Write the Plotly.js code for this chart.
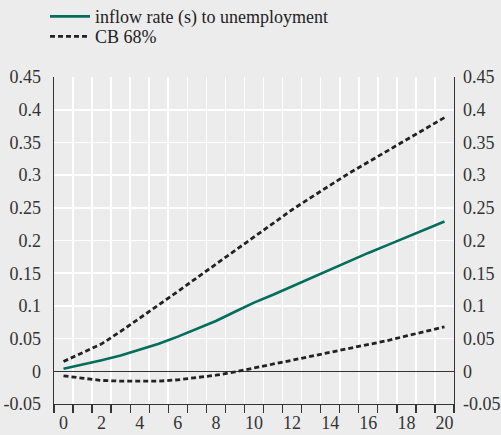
<!DOCTYPE html>
<html>
<head>
<meta charset="utf-8">
<script src="https://cdn.plot.ly/plotly-3.0.1.min.js"></script>
<style>
html,body{margin:0;padding:0;background:#ececec;}
#chart{width:501px;height:435px;}
</style>
</head>
<body>
<div id="chart"></div>
<script>
const horizons = [0,1,2,3,4,5,6,7,8,9,10,11,12,13,14,15,16,17,18,19,20];
const inflowRate = [0.004,0.010,0.017,0.024,0.033,0.042,0.053,0.065,0.077,0.091,0.105,0.117,0.130,0.143,0.156,0.169,0.181,0.193,0.205,0.216,0.229];
const cbUpper = [0.015,0.028,0.042,0.061,0.081,0.102,0.122,0.143,0.164,0.185,0.206,0.227,0.247,0.266,0.285,0.303,0.320,0.337,0.354,0.371,0.388];
const cbLower = [-0.007,-0.011,-0.014,-0.015,-0.015,-0.015,-0.013,-0.010,-0.006,-0.001,0.005,0.010,0.016,0.022,0.028,0.034,0.040,0.047,0.054,0.061,0.068];
const xTickVals = [0,2,4,6,8,10,12,14,16,18,20];
const xTickText = ["0","2","4","6","8","10","12","14","16","18","20"];
const yTickVals = [-0.05,0,0.05,0.1,0.15,0.2,0.25,0.3,0.35,0.4,0.45];
const yTickText = ["-0.05","0","0.05","0.1","0.15","0.2","0.25","0.3","0.35","0.4","0.45"];
const labels = ["inflow rate (s) to unemployment","CB 68%"];

const teal = "#006e5a";
const dark = "#222222";
const font = "Liberation Serif, Times New Roman, Tinos, DejaVu Serif, serif";

const traces = [
  {x: horizons, y: inflowRate, type: "scatter", mode: "lines", name: labels[0], legend: "legend",
   line: {color: teal, width: 2.6}, xaxis: "x", yaxis: "y"},
  {x: horizons, y: cbUpper, type: "scatter", mode: "lines", name: labels[1], legend: "legend2",
   line: {color: dark, width: 2.8, dash: "5px,3px"}, legendgroup: "cb", xaxis: "x", yaxis: "y"},
  {x: horizons, y: cbLower, type: "scatter", mode: "lines", name: labels[1], showlegend: false, legend: "legend2",
   line: {color: dark, width: 2.8, dash: "5px,3px"}, legendgroup: "cb", xaxis: "x", yaxis: "y"},
  {x: [horizons[0]], y: [0], type: "scatter", mode: "markers", showlegend: false, hoverinfo: "skip",
   marker: {opacity: 0}, xaxis: "x2", yaxis: "y2"}
];

const legendBase = {x: -0.0225, xanchor: "left", yanchor: "middle", bgcolor: "rgba(0,0,0,0)",
  font: {family: font, size: 18, color: "#222"}, itemwidth: 40, tracegroupgap: 0};

const layout = {
  width: 501, height: 435,
  paper_bgcolor: "#ececec", plot_bgcolor: "#ececec",
  margin: {l: 54, r: 47, t: 77, b: 31, pad: 0, autoexpand: false},
  font: {family: font, size: 17, color: "#333"},
  showlegend: true,
  legend: Object.assign({}, legendBase, {y: 1.1844}),
  legend2: Object.assign({}, legendBase, {y: 1.1232}),
  xaxis: {range: [-0.5, 20.5], tick0: -0.5, dtick: 1, tickmode: "linear",
          showticklabels: false, ticks: "outside", ticklen: 8, tickwidth: 1.3, tickcolor: "#333",
          showgrid: true, gridcolor: "#ffffff", gridwidth: 1.6,
          showline: true, linecolor: "#333", linewidth: 1.3, zeroline: false, fixedrange: true},
  xaxis2: {range: [-0.5, 20.5], overlaying: "x", anchor: "y", side: "bottom",
           tickmode: "array", tickvals: xTickVals, ticktext: xTickText, ticks: "",
           ticklabelstandoff: 6, showgrid: false, zeroline: false, showline: false,
           tickfont: {family: font, size: 18, color: "#333"}, fixedrange: true},
  yaxis: {range: [-0.05, 0.45], tickmode: "array", tickvals: yTickVals, ticktext: yTickText,
          ticks: "", ticklabelstandoff: 8, showgrid: true, gridcolor: "#ffffff", gridwidth: 1.6,
          zeroline: true, zerolinecolor: "#333", zerolinewidth: 1,
          showline: true, linecolor: "#333", linewidth: 1.3,
          tickfont: {family: font, size: 18, color: "#333"}, fixedrange: true},
  yaxis2: {range: [-0.05, 0.45], overlaying: "y", side: "right", anchor: "x",
           tickmode: "array", tickvals: yTickVals, ticktext: yTickText, ticks: "",
           ticklabelstandoff: 4, showgrid: false, zeroline: false,
           showline: true, linecolor: "#333", linewidth: 1.3,
           tickfont: {family: font, size: 18, color: "#333"}, fixedrange: true}
};

Plotly.newPlot("chart", traces, layout, {displayModeBar: false, staticPlot: true});
</script>
</body>
</html>
